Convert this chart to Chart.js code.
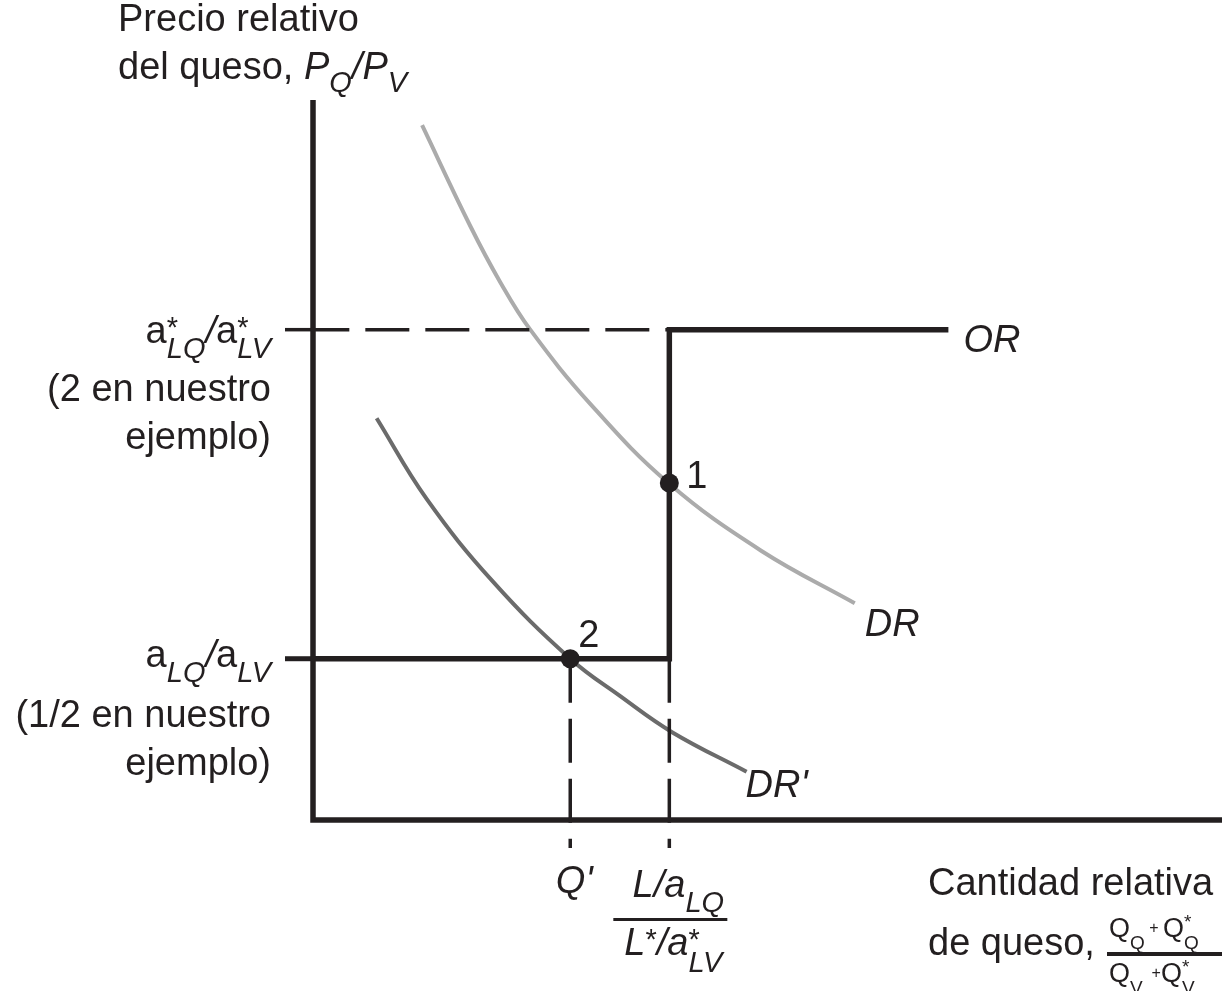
<!DOCTYPE html>
<html>
<head>
<meta charset="utf-8">
<script src="https://cdn.jsdelivr.net/npm/chart.js@4"></script>
<style>
  html, body { margin: 0; padding: 0; background: #fff; }
  #wrap { width: 1222px; height: 991px; }
</style>
</head>
<body>
<div id="wrap"><canvas id="chart" width="1222" height="991"></canvas></div>
<script>
// relative demand DR / DR' and relative supply OR (quantity 0-100, price 0-100 in plot units)
const drQty = [12.0, 17.3, 20.6, 23.9, 30.5, 39.1, 49.3, 59.6]
const drPrice = [96.5, 82.5, 74.7, 68.1, 57.8, 46.8, 37.4, 30.1]
const drPrimeQty = [7.0, 12.5, 19.8, 28.3, 33.8, 39.5, 47.7]
const drPrimePrice = [55.8, 44.6, 33.1, 22.4, 17.2, 12.2, 6.7]

const priceLevels = [68.1, 22.4]      // a*LQ/a*LV , aLQ/aLV
const qtyLevels = [28.3, 39.2]        // Q' , L/aLQ / L*/a*LV
const orEndQty = 69.9
const dropTo = -3.9                   // guide lines run a little below the axis

const eqQty = [39.2, 28.3]            // points 1 and 2
const eqPrice = [46.8, 22.4]
const eqLabels = ['1', '2']

const INK = '#231f20'
const FONT = '"Liberation Sans", Arial, sans-serif'
const BIG = { main: 38, sub: 29, subDy: 15, supDy: -6 }
const SMALL = { main: 27, sub: 19, subDy: 12, supDy: -9 }

const priceTickLabels = [
  [
    [{ t: 'a' }, { stack: [{ t: 'LQ', i: 1, s: 'sub' }, { t: '*', s: 'sup' }] }, { t: '/', i: 1 }, { t: 'a' }, { stack: [{ t: 'LV', i: 1, s: 'sub' }, { t: '*', s: 'sup' }] }],
    '(2 en nuestro', 'ejemplo)'
  ],
  [
    [{ t: 'a' }, { t: 'LQ', i: 1, s: 'sub' }, { t: '/', i: 1 }, { t: 'a' }, { t: 'LV', i: 1, s: 'sub' }],
    '(1/2 en nuestro', 'ejemplo)'
  ]
]

function pts (xs, ys) { return xs.map((x, i) => ({ x, y: ys[i] })) }

function line (data, color, width, extra) {
  return Object.assign({
    data, showLine: true, borderColor: color, borderWidth: width,
    pointRadius: 0, fill: false, clip: false, tension: 0, order: 1
  }, extra || {})
}

function drawRich (ctx, parts, x, y, st, align) {
  const fontOf = p => (p.i ? 'italic ' : '') + (p.size || (p.s ? st.sub : st.main)) + 'px ' + FONT
  const dyOf = p => p.dy != null ? p.dy : p.s === 'sub' ? st.subDy : p.s === 'sup' ? st.supDy : 0
  const w = p => {
    if (p.stack) return Math.max(...p.stack.map(w))
    ctx.font = fontOf(p)
    return ctx.measureText(p.t).width
  }
  const total = parts.reduce((a, p) => a + w(p), 0)
  let cx = align === 'right' ? x - total : align === 'center' ? x - total / 2 : x
  ctx.textAlign = 'left'
  ctx.textBaseline = 'alphabetic'
  ctx.fillStyle = INK
  parts.forEach(p => {
    (p.stack || [p]).forEach(q => { ctx.font = fontOf(q); ctx.fillText(q.t, cx, y + dyOf(q)) })
    cx += w(p)
  })
}

const txt = (s, i) => [{ t: s, i: i ? 1 : 0 }]

const labelsPlugin = {
  id: 'labels',
  afterDraw (chart) {
    const { ctx, chartArea: { left, bottom } } = chart
    const xs = chart.scales.x
    const ys = chart.scales.y
    ctx.save()

    // ticks on the price axis
    ctx.strokeStyle = INK
    priceLevels.forEach((v, k) => {
      const py = ys.getPixelForValue(v)
      ctx.lineWidth = k === 0 ? 3.5 : 5
      ctx.beginPath(); ctx.moveTo(left - 28, py); ctx.lineTo(left, py); ctx.stroke()
    })

    // axis titles
    drawRich(ctx, txt('Precio relativo'), 118, 31, BIG, 'left')
    drawRich(ctx, [{ t: 'del queso, ' }, { t: 'P', i: 1 }, { t: 'Q', i: 1, s: 'sub', dy: 13 }, { t: '/', i: 1 }, { t: 'P', i: 1 }, { t: 'V', i: 1, s: 'sub', dy: 13 }], 118, 79, BIG, 'left')

    drawRich(ctx, txt('Cantidad relativa'), 928, 895, BIG, 'left')
    drawRich(ctx, txt('de queso,'), 928, 955, BIG, 'left')
    ctx.fillStyle = INK
    ctx.fillRect(1107, 952, 115, 4)
    drawRich(ctx, [{ t: 'Q' }, { t: 'Q', s: 'sub' }, { t: ' + ', size: 16, dy: -4 }, { t: 'Q' }, { stack: [{ t: 'Q', s: 'sub' }, { t: '*', s: 'sup' }] }], 1109, 937, SMALL, 'left')
    drawRich(ctx, [{ t: 'Q' }, { t: 'V', s: 'sub' }, { t: '  +', size: 16, dy: -4 }, { t: 'Q' }, { stack: [{ t: 'V', s: 'sub' }, { t: '*', s: 'sup' }] }], 1109, 982, SMALL, 'left')

    // price tick labels
    const rowOff = [[13, 71, 119], [8, 68, 116]]
    priceTickLabels.forEach((rows, k) => {
      const py = ys.getPixelForValue(priceLevels[k])
      drawRich(ctx, rows[0], 271, py + rowOff[k][0], BIG, 'right')
      drawRich(ctx, txt(rows[1]), 271, py + rowOff[k][1], BIG, 'right')
      drawRich(ctx, txt(rows[2]), 271, py + rowOff[k][2], BIG, 'right')
    })

    // quantity tick labels
    const q0 = xs.getPixelForValue(qtyLevels[0])
    drawRich(ctx, [{ t: "Q'", i: 1 }], q0 + 4, bottom + 73, BIG, 'center')
    const q1 = xs.getPixelForValue(qtyLevels[1])
    ctx.fillStyle = INK
    ctx.fillRect(q1 - 56, bottom + 98, 114, 3)
    drawRich(ctx, [{ t: 'L', i: 1 }, { t: '/', i: 1 }, { t: 'a', i: 1 }, { t: 'LQ', i: 1, s: 'sub' }], q1 + 9, bottom + 77, BIG, 'center')
    drawRich(ctx, [{ t: 'L', i: 1 }, { t: '*', s: 'sup' }, { t: '/', i: 1 }, { t: 'a', i: 1 }, { stack: [{ t: 'LV', i: 1, s: 'sub', dy: 17 }, { t: '*', s: 'sup' }] }], q1 + 4, bottom + 135, BIG, 'center')

    // curve labels
    drawRich(ctx, txt('OR', 1), xs.getPixelForValue(orEndQty) + 15, ys.getPixelForValue(priceLevels[0]) + 22, BIG, 'left')
    drawRich(ctx, txt('DR', 1), xs.getPixelForValue(drQty[drQty.length - 1]) + 10, ys.getPixelForValue(drPrice[drPrice.length - 1]) + 33, BIG, 'left')
    drawRich(ctx, txt("DR'", 1), xs.getPixelForValue(drPrimeQty[drPrimeQty.length - 1]) - 1, ys.getPixelForValue(drPrimePrice[drPrimePrice.length - 1]) + 25, BIG, 'left')

    // equilibrium labels
    const eqOff = [[17, 5], [8, -12]]
    eqLabels.forEach((s, k) => {
      drawRich(ctx, txt(s), xs.getPixelForValue(eqQty[k]) + eqOff[k][0], ys.getPixelForValue(eqPrice[k]) + eqOff[k][1], BIG, 'left')
    })
    ctx.restore()
  }
}

const datasets = [
  // axes
  line(pts([0, 0, 100], [100, 0, 0]), INK, 5.5, { borderJoinStyle: 'miter' }),
  // dashed level a*LQ/a*LV up to the supply step
  line(pts([qtyLevels[1], 0], [priceLevels[0], priceLevels[0]]), INK, 3.5, { borderDash: [44, 16], borderDashOffset: 40 }),
  // relative supply OR
  line(pts([0, qtyLevels[1], qtyLevels[1], orEndQty], [priceLevels[1], priceLevels[1], priceLevels[0], priceLevels[0]]), INK, 5.5, { borderJoinStyle: 'miter' }),
  // dashed drop lines to the quantity axis
  line(pts([qtyLevels[0], qtyLevels[0]], [priceLevels[1], dropTo]), INK, 3.5, { borderDash: [44, 16] }),
  line(pts([qtyLevels[1], qtyLevels[1]], [priceLevels[1], dropTo]), INK, 3.5, { borderDash: [44, 16] }),
  // demand curves
  line(pts(drQty, drPrice), '#ababab', 4, { tension: 0.4, order: 2 }),
  line(pts(drPrimeQty, drPrimePrice), '#6b6b6b', 4, { tension: 0.4, order: 2 }),
  // equilibria
  { data: pts(eqQty, eqPrice), showLine: false, pointRadius: 9.5, pointBackgroundColor: INK, pointBorderWidth: 0, clip: false, order: 0 }
]

new Chart(document.getElementById('chart'), {
  type: 'scatter',
  data: { datasets },
  options: {
    responsive: false,
    animation: false,
    layout: { autoPadding: false, padding: { left: 313, top: 100, right: 0, bottom: 171 } },
    scales: {
      x: { type: 'linear', min: 0, max: 100, display: false },
      y: { type: 'linear', min: 0, max: 100, display: false }
    },
    plugins: { legend: { display: false }, tooltip: { enabled: false } }
  },
  plugins: [labelsPlugin]
})
</script>
</body>
</html>
